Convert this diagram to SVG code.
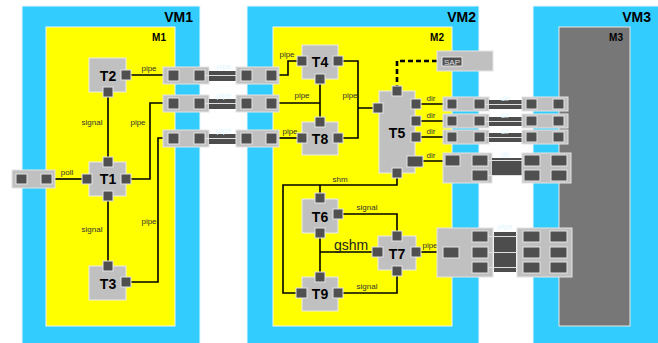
<svg xmlns="http://www.w3.org/2000/svg" width="658" height="343" viewBox="0 0 658 343">
<style>
.vm{fill:#33ccff;stroke:#e6f8ff;stroke-width:1}
.m{fill:#ffff00;stroke:#f4f4f4;stroke-width:1}
.m3{fill:#777777;stroke:#e8e8e8;stroke-width:1}
.node{fill:#c0c0c0;stroke:#ececec;stroke-width:1}
.port{fill:#505050;stroke:#e4e4e4;stroke-width:1}
.box{fill:#c0c0c0;stroke:#e4e4e4;stroke-width:1}
.bridge{fill:#4d4d4d}
.lt{stroke:#e0e0e0;stroke-width:1.2;fill:none}
.wire{stroke:#000;stroke-width:1.6;fill:none}
.dash{stroke:#000;stroke-width:2.6;fill:none;stroke-dasharray:5 3}
text{font-family:"Liberation Sans",Arial,sans-serif}
.vl{font-size:14px;font-weight:bold;text-anchor:end;fill:#000}
.ml{font-size:10px;font-weight:bold;text-anchor:end;fill:#000}
.tl{font-size:14px;font-weight:bold;text-anchor:middle;fill:#000}
.lb{font-size:8px;fill:#333;text-anchor:middle}
.fa{font-size:8px;fill:#e2f6ff;text-anchor:middle}
</style>
<g id="vm1"><rect class="vm" x="22" y="6" width="178" height="340"/><text class="vl" x="193" y="22">VM1</text></g>
<g id="vm2"><rect class="vm" x="247" y="6" width="232" height="340"/><text class="vl" x="476" y="22">VM2</text></g>
<g id="vm3"><rect class="vm" x="533" y="6" width="126" height="340"/><text class="vl" x="651" y="22">VM3</text></g>
<g id="m1"><rect class="m" x="46" y="27" width="129" height="299"/><text class="ml" x="166" y="41">M1</text></g>
<g id="m2"><rect class="m" x="273" y="27" width="179" height="299"/><text class="ml" x="444" y="41">M2</text></g>
<g id="m3"><rect class="m3" x="559" y="27" width="71" height="299"/><text class="ml" x="623" y="41">M3</text></g>

<g id="connectors">
<path class="wire" d="M131 75H168"/>
<path class="wire" d="M131 179H150V103H168"/>
<path class="wire" d="M131 282H158V138H168"/>
<path class="wire" d="M108 97V157M108 201V261"/>
<path class="wire" d="M52 179H82"/>
<path class="wire" d="M277 75H288V61H297"/>
<path class="wire" d="M277 103H320M320 84V117"/>
<path class="wire" d="M277 138H297"/>
<path class="wire" d="M343 61H358V138H343M358 108H373"/>
<path class="dash" d="M437 61H397V86"/>
<path class="wire" d="M421 104H447M421 121H447M421 137H447M423 161H445"/>
<path class="wire" d="M397 178V185H283V293H296M320 185V193"/>
<path class="wire" d="M343 214H397V231M343 293H397V276"/>
<path class="wire" d="M320 238V272M320 252H372"/>
<path class="wire" d="M421 252H443"/>
<text class="lb" x="149" y="71">pipe</text>
<text class="lb" x="92" y="125">signal</text>
<text class="lb" x="138" y="125">pipe</text>
<text class="lb" x="67" y="175">poll</text>
<text class="lb" x="92" y="232">signal</text>
<text class="lb" x="149" y="224">pipe</text>
<text class="lb" x="287" y="57">pipe</text>
<text class="lb" x="302" y="98">pipe</text>
<text class="lb" x="350" y="98">pipe</text>
<text class="lb" x="290" y="134">pipe</text>
<text class="lb" x="340" y="182">shm</text>
<text class="lb" x="367" y="210">signal</text>
<text x="351" y="250" style="font-size:14px;fill:#222;text-anchor:middle">gshm</text>
<text class="lb" x="367" y="289">signal</text>
<text class="lb" x="430" y="248">pipe</text>
<text class="lb" x="431" y="101">dir</text>
<text class="lb" x="431" y="118">dir</text>
<text class="lb" x="431" y="134">dir</text>
<text class="lb" x="431" y="158">dir</text>
</g>

<g id="pipe1">
<rect class="box" x="163" y="67" width="46" height="17"/><rect class="port" x="168" y="70" width="11" height="11"/><rect class="port" x="194" y="70" width="11" height="11"/>
<rect class="bridge" x="209" y="71" width="27" height="10"/><path class="lt" d="M205 75.5H241"/>
<rect class="box" x="236" y="67" width="43" height="17"/><rect class="port" x="241" y="70" width="11" height="11"/><rect class="port" x="266" y="70" width="11" height="11"/>
<text class="fa" x="224" y="69">pipe</text>
</g>
<g id="pipe2">
<rect class="box" x="163" y="95" width="46" height="17"/><rect class="port" x="168" y="98" width="11" height="11"/><rect class="port" x="194" y="98" width="11" height="11"/>
<rect class="bridge" x="209" y="99" width="27" height="10"/><path class="lt" d="M205 103.5H241"/>
<rect class="box" x="236" y="95" width="43" height="17"/><rect class="port" x="241" y="98" width="11" height="11"/><rect class="port" x="266" y="98" width="11" height="11"/>
<text class="fa" x="224" y="98">pipe</text>
</g>
<g id="pipe3">
<rect class="box" x="163" y="130" width="46" height="17"/><rect class="port" x="168" y="133" width="11" height="11"/><rect class="port" x="194" y="133" width="11" height="11"/>
<rect class="bridge" x="209" y="134" width="27" height="10"/><path class="lt" d="M205 138.5H241"/>
<rect class="box" x="236" y="130" width="43" height="17"/><rect class="port" x="241" y="133" width="11" height="11"/><rect class="port" x="266" y="133" width="11" height="11"/>
<text class="fa" x="224" y="133">pipe</text>
</g>
<g id="poll">
<rect class="box" x="12" y="170" width="43" height="18"/><rect class="port" x="16" y="174" width="11" height="10"/><rect class="port" x="41" y="174" width="11" height="10"/>
</g>

<g id="T2"><rect class="node" x="89" y="58" width="37" height="34"/><rect class="port" x="121" y="70" width="10" height="10"/><rect class="port" x="103" y="87" width="10" height="10"/><text class="tl" x="108" y="81">T2</text></g>
<g id="T1"><rect class="node" x="89" y="162" width="37" height="34"/><rect class="port" x="103" y="157" width="10" height="10"/><rect class="port" x="82" y="174" width="10" height="10"/><rect class="port" x="121" y="174" width="10" height="10"/><rect class="port" x="103" y="191" width="10" height="10"/><text class="tl" x="108" y="184">T1</text></g>
<g id="T3"><rect class="node" x="89" y="266" width="37" height="34"/><rect class="port" x="103" y="261" width="10" height="10"/><rect class="port" x="121" y="277" width="10" height="10"/><text class="tl" x="108" y="289">T3</text></g>

<g id="T4"><rect class="node" x="302" y="45" width="36" height="34"/><rect class="port" x="297" y="56" width="10" height="10"/><rect class="port" x="333" y="56" width="10" height="10"/><rect class="port" x="315" y="74" width="10" height="10"/><text class="tl" x="320" y="67">T4</text></g>
<g id="T8"><rect class="node" x="302" y="122" width="36" height="33"/><rect class="port" x="315" y="117" width="10" height="10"/><rect class="port" x="297" y="133" width="10" height="10"/><rect class="port" x="333" y="133" width="10" height="10"/><text class="tl" x="320" y="144">T8</text></g>
<g id="T5"><rect class="node" x="379" y="91" width="36" height="82"/><rect class="port" x="392" y="86" width="10" height="10"/><rect class="port" x="373" y="103" width="10" height="10"/><rect class="port" x="411" y="99" width="10" height="10"/><rect class="port" x="411" y="116" width="10" height="10"/><rect class="port" x="411" y="132" width="10" height="10"/><rect class="port" x="407" y="156" width="16" height="11"/><rect class="port" x="392" y="168" width="10" height="10"/><text class="tl" x="397" y="138">T5</text></g>
<g id="SAP"><rect class="box" x="437" y="51" width="56" height="20"/><rect class="port" x="442" y="57" width="20" height="9"/><text x="452" y="64.5" style="font-size:8px;fill:#e0e0e0;text-anchor:middle">SAP</text></g>
<g id="T6"><rect class="node" x="302" y="199" width="36" height="34"/><rect class="port" x="315" y="193" width="10" height="10"/><rect class="port" x="333" y="209" width="10" height="10"/><rect class="port" x="315" y="228" width="10" height="10"/><text class="tl" x="320" y="222">T6</text></g>
<g id="T7"><rect class="node" x="378" y="236" width="38" height="34"/><rect class="port" x="392" y="231" width="10" height="10"/><rect class="port" x="372" y="247" width="11" height="10"/><rect class="port" x="411" y="247" width="10" height="10"/><rect class="port" x="392" y="266" width="10" height="10"/><text class="tl" x="397" y="259">T7</text></g>
<g id="T9"><rect class="node" x="302" y="277" width="36" height="34"/><rect class="port" x="315" y="272" width="10" height="10"/><rect class="port" x="296" y="288" width="11" height="10"/><rect class="port" x="333" y="288" width="10" height="10"/><text class="tl" x="320" y="299">T9</text></g>

<g id="dir1">
<rect class="box" x="443" y="97" width="46" height="14"/><rect class="port" x="447" y="99" width="10" height="10"/><rect class="port" x="474" y="99" width="11" height="10"/>
<rect class="bridge" x="489" y="100" width="33" height="9"/><path class="lt" d="M485 104.5H526"/>
<rect class="box" x="522" y="97" width="46" height="14"/><rect class="port" x="526" y="99" width="11" height="10"/><rect class="port" x="553" y="99" width="11" height="10"/>
<text class="fa" x="505" y="101">dir</text>
</g>
<g id="dir2">
<rect class="box" x="443" y="114" width="46" height="14"/><rect class="port" x="447" y="116" width="10" height="10"/><rect class="port" x="474" y="116" width="11" height="10"/>
<rect class="bridge" x="489" y="117" width="33" height="9"/><path class="lt" d="M485 121.5H526"/>
<rect class="box" x="522" y="114" width="46" height="14"/><rect class="port" x="526" y="116" width="11" height="10"/><rect class="port" x="553" y="116" width="11" height="10"/>
<text class="fa" x="505" y="118">dir</text>
</g>
<g id="dir3">
<rect class="box" x="443" y="130" width="46" height="14"/><rect class="port" x="447" y="132" width="10" height="10"/><rect class="port" x="474" y="132" width="11" height="10"/>
<rect class="bridge" x="489" y="133" width="33" height="9"/><path class="lt" d="M485 137.5H526"/>
<rect class="box" x="522" y="130" width="46" height="14"/><rect class="port" x="526" y="132" width="11" height="10"/><rect class="port" x="553" y="132" width="11" height="10"/>
<text class="fa" x="505" y="134">dir</text>
</g>
<g id="dir4">
<rect class="box" x="443" y="153" width="49" height="30"/><rect class="port" x="445" y="155" width="15" height="11"/><rect class="port" x="472" y="155" width="16" height="11"/><rect class="port" x="472" y="170" width="16" height="11"/>
<rect class="bridge" x="492" y="158" width="30" height="18"/><path class="lt" d="M488 160.5H524M488 175.5H524"/>
<rect class="box" x="522" y="153" width="49" height="30"/><rect class="port" x="524" y="155" width="16" height="11"/><rect class="port" x="551" y="155" width="16" height="11"/><rect class="port" x="524" y="170" width="16" height="11"/><rect class="port" x="551" y="170" width="16" height="11"/>
<text class="fa" x="505" y="157">dir</text>
</g>
<g id="pipe4">
<rect class="box" x="437" y="228" width="56" height="49"/><rect class="port" x="443" y="247" width="16" height="11"/><rect class="port" x="472" y="231" width="16" height="11"/><rect class="port" x="472" y="247" width="16" height="11"/><rect class="port" x="472" y="262" width="16" height="11"/>
<rect class="bridge" x="494" y="232" width="22" height="40"/><path class="lt" d="M488 236.5H523M488 252.5H523M488 267.5H523"/>
<rect class="box" x="517" y="228" width="55" height="49"/><rect class="port" x="523" y="231" width="17" height="11"/><rect class="port" x="550" y="231" width="17" height="11"/><rect class="port" x="523" y="247" width="17" height="11"/><rect class="port" x="550" y="247" width="17" height="11"/><rect class="port" x="523" y="262" width="17" height="11"/><rect class="port" x="550" y="262" width="17" height="11"/>
<text class="fa" x="505" y="229">pipe</text>
</g>
</svg>
